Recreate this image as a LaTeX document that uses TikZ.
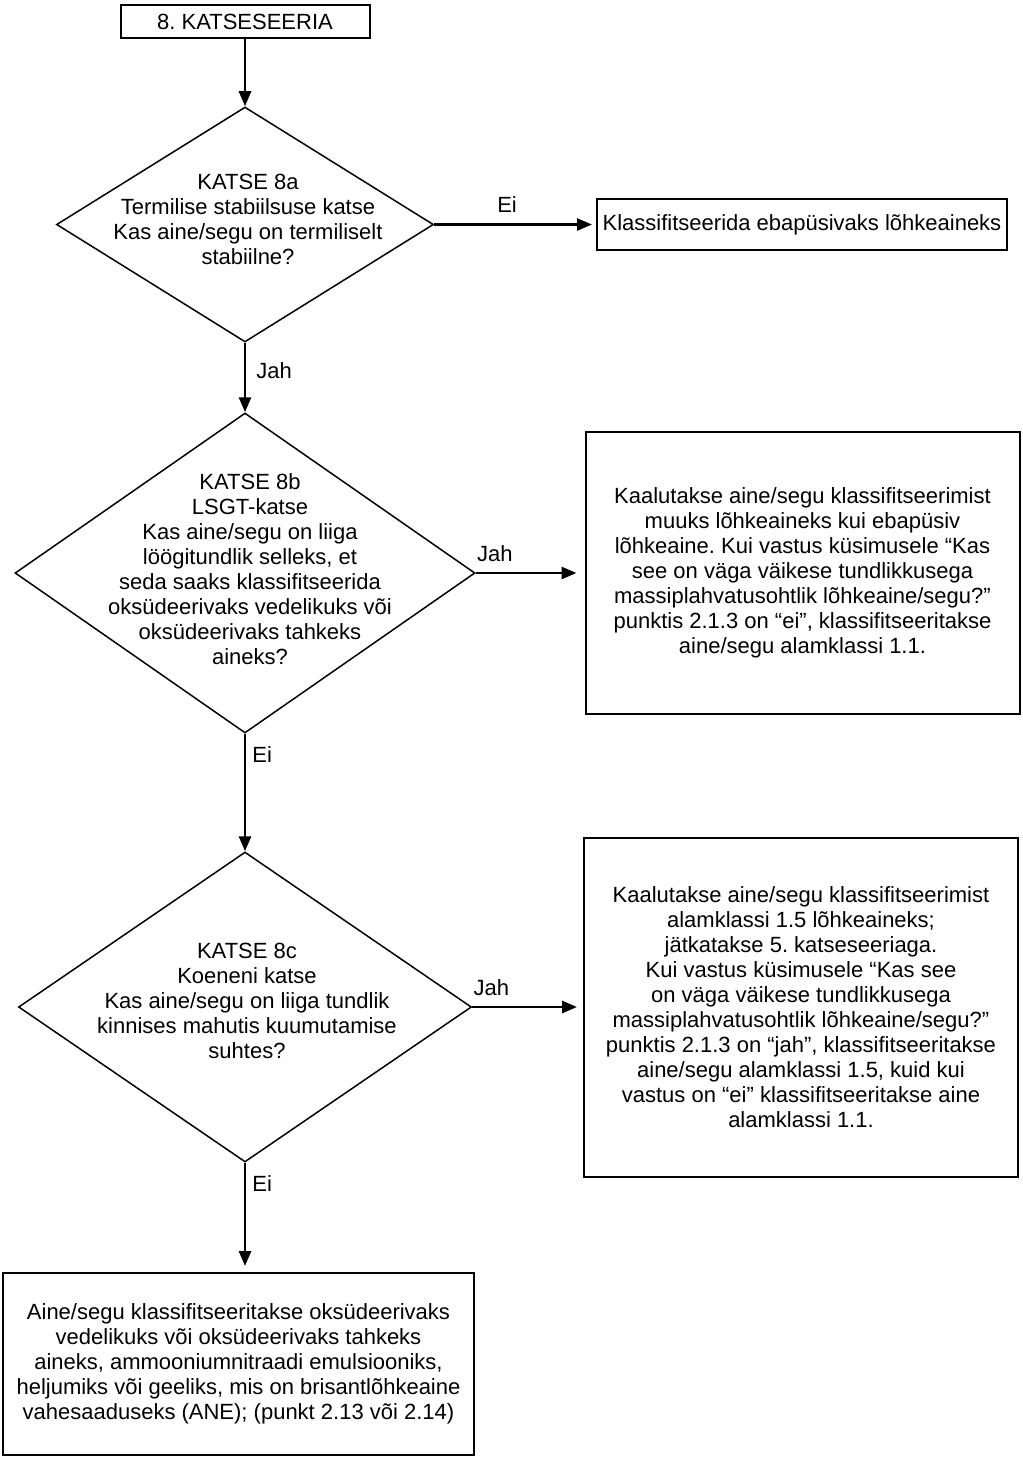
\documentclass[tikz,border=0pt]{standalone}
\usepackage{fontspec}
\setmainfont{Liberation Sans}
\usepackage{tikz}
\usetikzlibrary{arrows.meta,positioning,shapes.geometric}
\frenchspacing

\begin{document}
\begin{tikzpicture}[
  x=0.5pt, y=-0.5pt,
  every node/.style={font=\fontsize{11pt}{12.5pt}\selectfont},
  box/.style={rectangle, draw=black, line width=1pt, align=center, inner sep=0pt},
  dec/.style={diamond, draw=black, line width=0.75pt, inner sep=0pt},
  dectext/.style={align=center, inner sep=0pt},
  lbl/.style={inner sep=0pt},
  flow/.style={-{Triangle[length=7.5pt,width=6pt]}, line width=1.35pt, draw=black}
]
\useasboundingbox (0,0) rectangle (1023,1464);

\node[box, minimum width=124.5pt, minimum height=16.5pt] (ser) at (245,21.5) {8. KATSESEERIA};

\node[dec, minimum width=188.5pt, minimum height=117.5pt] (d8a) at (245,224.5) {};
\node[dectext] (t8a) at (248,219.5) {KATSE 8a\\Termilise stabiilsuse katse\\Kas aine/segu on termiliselt\\stabiilne?};
\node[box, minimum width=205pt, minimum height=25.5pt] (ebap) at (802,224.5) {Klassifitseerida ebapüsivaks lõhkeaineks};

\node[dec, minimum width=230pt, minimum height=160pt] (d8b) at (245,573) {};
\node[dectext] (t8b) at (250,569.5) {KATSE 8b\\LSGT-katse\\Kas aine/segu on liiga\\löögitundlik selleks, et\\seda saaks klassifitseerida\\oksüdeerivaks vedelikuks või\\oksüdeerivaks tahkeks\\aineks?};
\node[box, minimum width=217pt, minimum height=141pt] (k11) at (802.5,573) {Kaalutakse aine/segu klassifitseerimist\\muuks lõhkeaineks kui ebapüsiv\\lõhkeaine. Kui vastus küsimusele “Kas\\see on väga väikese tundlikkusega\\massiplahvatusohtlik lõhkeaine/segu?”\\punktis 2.1.3 on “ei”, klassifitseeritakse\\aine/segu alamklassi 1.1.};

\node[dec, minimum width=226.5pt, minimum height=155pt] (d8c) at (245,1007) {};
\node[dectext] (t8c) at (247,1001) {KATSE 8c\\Koeneni katse\\Kas aine/segu on liiga tundlik\\kinnises mahutis kuumutamise\\suhtes?};
\node[box, minimum width=217pt, minimum height=169.5pt] (k15) at (801,1007) {Kaalutakse aine/segu klassifitseerimist\\alamklassi 1.5 lõhkeaineks;\\jätkatakse 5. katseseeriaga.\\Kui vastus küsimusele “Kas see\\on väga väikese tundlikkusega\\massiplahvatusohtlik lõhkeaine/segu?”\\punktis 2.1.3 on “jah”, klassifitseeritakse\\aine/segu alamklassi 1.5, kuid kui\\vastus on “ei” klassifitseeritakse aine\\alamklassi 1.1.};

\node[box, minimum width=235.5pt, minimum height=91pt] (ane) at (238.5,1364) {Aine/segu klassifitseeritakse oksüdeerivaks\\vedelikuks või oksüdeerivaks tahkeks\\aineks, ammooniumnitraadi emulsiooniks,\\heljumiks või geeliks, mis on brisantlõhkeaine\\vahesaaduseks (ANE); (punkt 2.13 või 2.14)};

\draw[flow] (ser) -- (d8a);
\draw[flow, shorten >=2pt] (d8a) -- node[lbl, above=5.5pt, pos=0.45] {Ei} (ebap);
\draw[flow] (d8a) -- node[lbl, below right=9pt and 5pt, at start] {Jah} (d8b);
\draw[flow, shorten >=4pt] (d8b) -- node[lbl, above right=5pt and 0pt, at start] {Jah} (k11);
\draw[flow] (d8b) -- node[lbl, below right=5.5pt and 3pt, at start] {Ei} (d8c);
\draw[flow, shorten >=3pt] (d8c) -- node[lbl, above right=5pt and 0pt, at start] {Jah} (k15);
\draw[flow, shorten >=3pt] (d8c.south) -- node[lbl, below right=5.5pt and 3pt, at start] {Ei} (d8c.south |- ane.north);
\end{tikzpicture}
\end{document}
